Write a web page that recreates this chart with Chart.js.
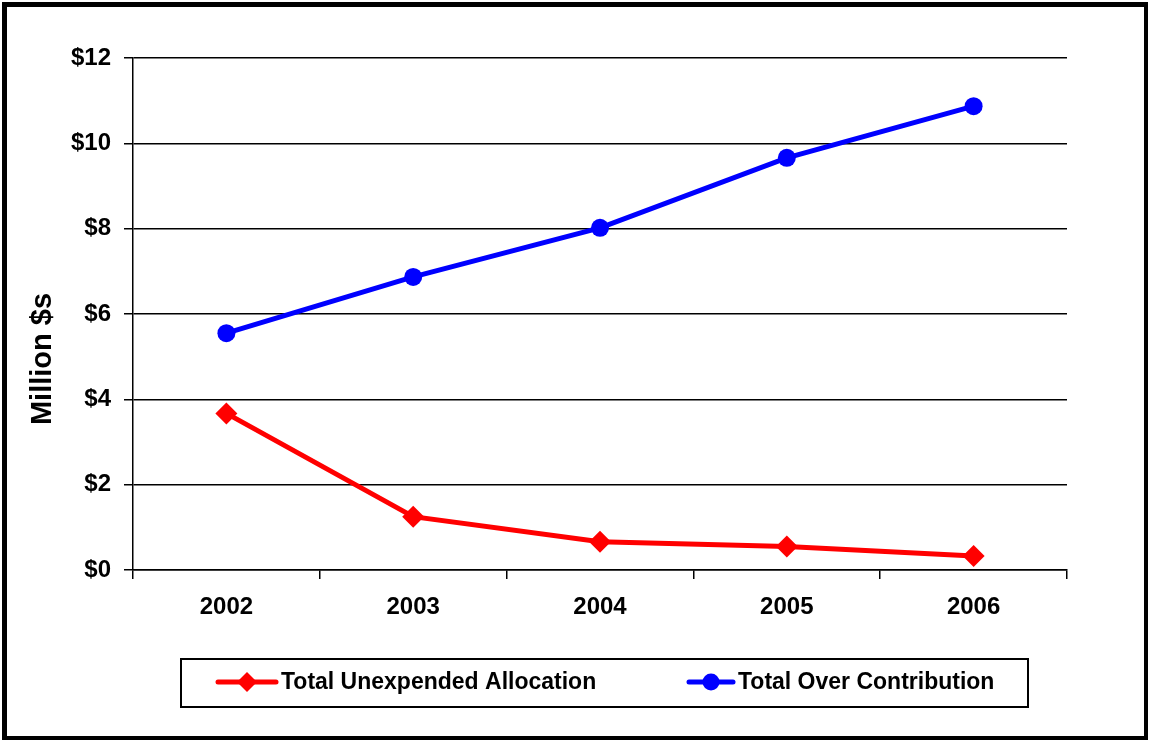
<!DOCTYPE html>
<html>
<head>
<meta charset="utf-8">
<script src="https://cdn.jsdelivr.net/npm/chart.js@4.4.0/dist/chart.umd.min.js"></script>
<style>
html,body{margin:0;padding:0;background:#fff;}
#wrap{width:1150px;height:742px;position:relative;}
</style>
</head>
<body>
<div id="wrap"><canvas id="c" width="1150" height="742"></canvas></div>
<script>
const years = ['2002', '2003', '2004', '2005', '2006'];
const unexpendedAllocation = [3.67, 1.25, 0.66, 0.55, 0.33];
const overContribution = [5.55, 6.87, 8.02, 9.66, 10.87];
const yTicks = [0, 2, 4, 6, 8, 10, 12];
const yTitle = 'Million $s';
const seriesNames = ['Total Unexpended Allocation', 'Total Over Contribution'];

const FONT = "'Liberation Sans', Arial, sans-serif";

const framePlugin = {
  id: 'frame',
  afterDraw(chart) {
    const ctx = chart.ctx;
    ctx.save();
    // outer frame
    ctx.fillStyle = '#000';
    ctx.fillRect(2, 2, 1146, 5);
    ctx.fillRect(2, 2, 5, 738);
    ctx.fillRect(1144, 2, 4, 738);
    ctx.fillRect(2, 736, 1146, 4);
    // y axis title
    ctx.translate(43, 359);
    ctx.rotate(-Math.PI / 2);
    ctx.font = 'bold 29px ' + FONT;
    ctx.textAlign = 'center';
    ctx.textBaseline = 'middle';
    ctx.fillStyle = '#000';
    ctx.fillText(yTitle, 0, 0);
    ctx.restore();

    // legend
    ctx.save();
    ctx.strokeStyle = '#000';
    ctx.lineWidth = 2;
    ctx.strokeRect(181, 659, 847, 48);
    const ds = chart.data.datasets;
    const items = [
      {x0: 218, x1: 276, tx: 281, d: ds[0]},
      {x0: 689, x1: 733, tx: 738, d: ds[1]}
    ];
    const cy = 682;
    items.forEach(it => {
      ctx.strokeStyle = it.d.borderColor;
      ctx.lineWidth = 5;
      ctx.lineCap = 'round';
      ctx.beginPath();
      ctx.moveTo(it.x0, cy);
      ctx.lineTo(it.x1, cy);
      ctx.stroke();
      const mx = (it.x0 + it.x1) / 2;
      ctx.fillStyle = it.d.borderColor;
      ctx.beginPath();
      if (it.d.pointStyle === 'rectRot') {
        const r = 10;
        ctx.moveTo(mx, cy - r); ctx.lineTo(mx + r, cy); ctx.lineTo(mx, cy + r); ctx.lineTo(mx - r, cy);
        ctx.closePath();
      } else {
        ctx.arc(mx, cy, 8.5, 0, Math.PI * 2);
      }
      ctx.fill();
      ctx.fillStyle = '#000';
      ctx.font = 'bold 23px ' + FONT;
      ctx.textAlign = 'left';
      ctx.textBaseline = 'middle';
      ctx.fillText(it.d.label, it.tx, cy + 1);
    });
    ctx.restore();
  }
};

new Chart(document.getElementById('c'), {
  type: 'line',
  data: {
    labels: years,
    datasets: [
      {
        label: seriesNames[0],
        data: unexpendedAllocation,
        borderColor: '#ff0000',
        backgroundColor: '#ff0000',
        borderWidth: 5,
        pointStyle: 'rectRot',
        pointRadius: 11,
        pointBorderWidth: 0,
        tension: 0
      },
      {
        label: seriesNames[1],
        data: overContribution,
        borderColor: '#0000ff',
        backgroundColor: '#0000ff',
        borderWidth: 5,
        pointStyle: 'circle',
        pointRadius: 9,
        pointBorderWidth: 0,
        tension: 0
      }
    ]
  },
  options: {
    responsive: false,
    animation: false,
    devicePixelRatio: 1,
    layout: {padding: {left: 8, top: 58, right: 83, bottom: 102}},
    plugins: {legend: {display: false}, tooltip: {enabled: false}},
    scales: {
      x: {
        offset: true,
        grid: {offset: true, drawOnChartArea: false, drawTicks: true, tickLength: 9, color: '#000', lineWidth: 1.5},
        border: {color: '#000', width: 1.5},
        ticks: {color: '#000', font: {family: FONT, size: 24, weight: 'bold'}, padding: 14, maxRotation: 0},
        afterFit(s) { s.height = 70; }
      },
      y: {
        min: 0, max: 12,
        afterBuildTicks(s) { s.ticks = yTicks.map(v => ({value: v})); },
        grid: {color: '#000', lineWidth: 1.5, tickLength: 9},
        border: {color: '#000', width: 1.5},
        ticks: {color: '#000', font: {family: FONT, size: 24, weight: 'bold'}, padding: 13,
          callback: v => '$' + v},
        afterFit(s) { s.width = 125; }
      }
    }
  },
  plugins: [framePlugin]
});
</script>
</body>
</html>
